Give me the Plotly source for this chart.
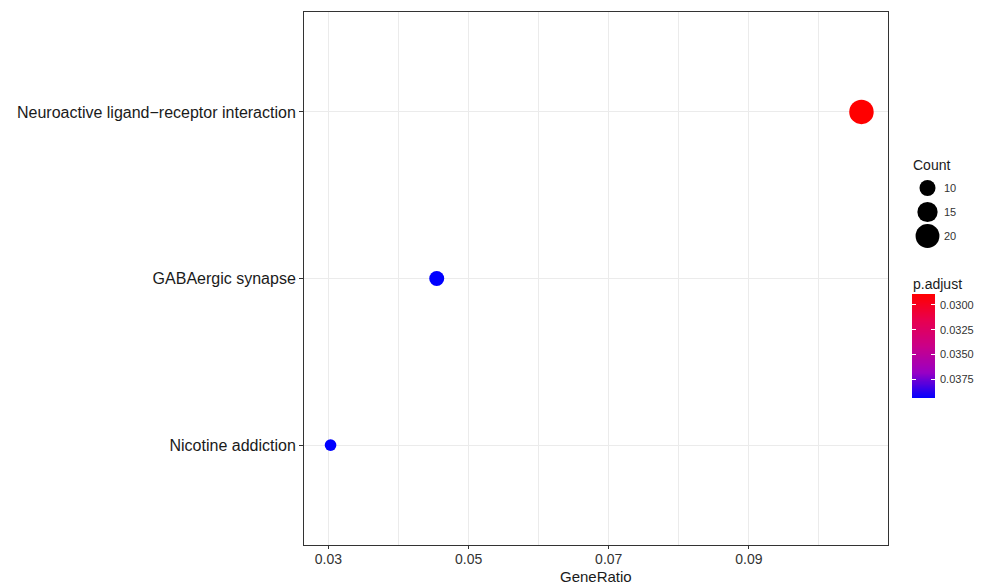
import numpy as np
import plotly.graph_objects as go

# ---- data ----
pathways = ["Nicotine addiction", "GABAergic synapse", "Neuroactive ligand\u2212receptor interaction"]
gene_ratio = [6 / 198, 9 / 198, 21 / 198]
counts = [6, 9, 21]
p_adjust = [0.0394, 0.0394, 0.0289]
x_ticks = [0.03, 0.05, 0.07, 0.09]
count_breaks = [10, 15, 20]
p_breaks = [0.0300, 0.0325, 0.0350, 0.0375]

W, H = 985, 585
MT, MB = 12, 40
PH = H - MT - MB


def py(pix):
    return (H - MB - pix) / PH


def px(pix):
    return pix / W


def diam(c):
    return -3 + 6 * np.sqrt(c)


colorscale = [[0.0, "rgb(255,0,0)"], [0.25, "rgb(232,0,79)"], [0.5, "rgb(202,0,136)"],
              [0.75, "rgb(154,0,195)"], [1.0, "rgb(0,0,255)"]]
pmin, pmax = min(p_adjust), max(p_adjust)

# x range like ggplot expansion (5%)
xr = max(gene_ratio) - min(gene_ratio)
x_range = [min(gene_ratio) - 0.05 * xr, max(gene_ratio) + 0.05 * xr]

fig = go.Figure()
fig.add_trace(go.Scatter(
    x=gene_ratio, y=pathways, mode="markers",
    marker=dict(size=[diam(c) for c in counts], color=p_adjust, colorscale=colorscale,
                cmin=pmin, cmax=pmax, showscale=False, line=dict(width=0), opacity=1),
    showlegend=False, xaxis="x", yaxis="y"))

# size legend
fig.add_trace(go.Scatter(
    x=[0] * len(count_breaks), y=[str(b) for b in count_breaks], mode="markers",
    marker=dict(size=[diam(b) for b in count_breaks], color="#000000", opacity=1,
                line=dict(width=0)),
    opacity=1, showlegend=False, xaxis="x2", yaxis="y2", hoverinfo="skip"))

# colour bar as heatmap
pv = np.linspace(pmin, pmax, 200)
fig.add_trace(go.Heatmap(
    x=[0], y=pv, z=pv.reshape(-1, 1), colorscale=colorscale, zmin=pmin, zmax=pmax,
    showscale=False, xaxis="x3", yaxis="y3", hoverinfo="skip"))

grid = "#EBEBEB"
border = "#333333"
fig.update_layout(
    width=W, height=H, margin=dict(l=0, r=0, t=MT, b=MB),
    paper_bgcolor="white", plot_bgcolor="white",
    font=dict(family="Liberation Sans, Arial, sans-serif", color="#1a1a1a"),
    xaxis=dict(domain=[px(304), px(888)], range=x_range, tickvals=x_ticks,
               ticktext=[f"{v:.2f}" for v in x_ticks],
               showgrid=True, gridcolor=grid, gridwidth=1,
               minor=dict(dtick=0.01, tick0=0.0, showgrid=True, gridcolor=grid, gridwidth=0.6),
               ticks="outside", ticklen=3, tickcolor=border,
               showline=True, linecolor=border, linewidth=1, mirror=True,
               tickfont=dict(size=14, color="#333333"), zeroline=False,
               ticklabelstandoff=-2, anchor="y"),
    yaxis=dict(domain=[0, 1], range=[-0.6, 2.6], type="category", categoryorder="array",
               categoryarray=pathways, showgrid=True, gridcolor=grid, gridwidth=1,
               ticks="outside", ticklen=4, tickcolor=border,
               showline=True, linecolor=border, linewidth=1, mirror=True,
               tickfont=dict(size=16, color="#1a1a1a"), zeroline=False, anchor="x"),
    xaxis2=dict(domain=[px(912), px(943)], range=[-1, 1], visible=False, anchor="y2"),
    yaxis2=dict(domain=[py(248), py(176)], type="category", categoryorder="array",
                categoryarray=[str(b) for b in count_breaks], range=[2.5, -0.5],
                side="right", anchor="x2", showgrid=False, zeroline=False, showline=False,
                ticks="", tickfont=dict(size=11, color="#333333")),
    xaxis3=dict(domain=[px(912), px(935)], range=[-0.5, 0.5], visible=False, anchor="y3"),
    yaxis3=dict(domain=[py(398), py(294)], range=[pmax, pmin], side="right", anchor="x3",
                tickvals=p_breaks, ticktext=[f"{v:.4f}" for v in p_breaks],
                ticks="inside", ticklen=4, tickcolor="white", tickwidth=1, mirror="ticks",
                showgrid=False, zeroline=False, showline=False,
                tickfont=dict(size=11, color="#333333"), ticklabelstandoff=4),
    annotations=[
        dict(text="GeneRatio", x=px(596), y=py(576), xref="paper", yref="paper",
             xanchor="center", yanchor="middle", showarrow=False,
             font=dict(size=15, color="#1a1a1a")),
        dict(text="Count", x=px(911), y=py(165), xref="paper", yref="paper",
             xanchor="left", yanchor="middle", showarrow=False,
             font=dict(size=14, color="#1a1a1a")),
        dict(text="p.adjust", x=px(911), y=py(284), xref="paper", yref="paper",
             xanchor="left", yanchor="middle", showarrow=False,
             font=dict(size=14, color="#1a1a1a")),
    ],
)

fig.write_html("out.html")
